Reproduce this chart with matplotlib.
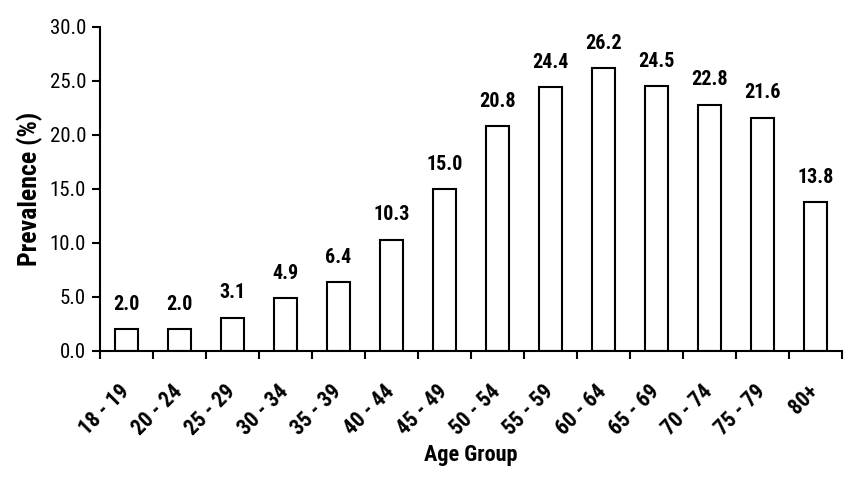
import matplotlib
matplotlib.use("Agg")
import matplotlib.pyplot as plt
import numpy as np
from matplotlib import font_manager

age_groups = ["18 - 19", "20 - 24", "25 - 29", "30 - 34", "35 - 39", "40 - 44", "45 - 49",
              "50 - 54", "55 - 59", "60 - 64", "65 - 69", "70 - 74", "75 - 79", "80+"]
prevalence = [2.0, 2.0, 3.1, 4.9, 6.4, 10.3, 15.0, 20.8, 24.4, 26.2, 24.5, 22.8, 21.6, 13.8]
y_ticks = [0, 5, 10, 15, 20, 25, 30]

names = {f.name for f in font_manager.fontManager.ttflist}
fam = "Liberation Sans"
for cand in ["Liberation Sans Narrow", "Roboto Condensed", "Open Sans Condensed", "DejaVu Sans Condensed"]:
    if cand in names:
        fam = cand
        break
plt.rcParams['font.family'] = [fam, 'DejaVu Sans']

fig = plt.figure(figsize=(8.5, 4.84), dpi=100)
ax = fig.add_axes([100/850, 1-351/484, 742/850, 324/484])

x = np.arange(len(age_groups))
ax.bar(x, prevalence, width=0.44, color="white", edgecolor="black", linewidth=1.5)
for xi, v in zip(x, prevalence):
    ax.annotate(f"{v:.1f}", (xi, v), xytext=(0, 11), textcoords="offset points",
                ha="center", va="bottom", fontsize=14.5, fontweight="bold")

ax.set_xlim(-0.5, len(age_groups) - 0.5)
ax.set_ylim(0, 30)
ax.set_yticks(y_ticks)
ax.set_yticklabels([f"{t:.1f}" for t in y_ticks], fontsize=15)

ax.set_xticks(np.arange(len(age_groups) + 1) - 0.5)
ax.set_xticklabels([])
ax.set_xticks(x, minor=True)
ax.set_xticklabels(age_groups, minor=True, rotation=45, ha="right", va="center",
                   rotation_mode="anchor", fontsize=15.5, fontweight="bold")
ax.tick_params(axis="x", which="minor", length=0, pad=27)
ax.tick_params(axis="both", which="major", length=6, width=1.5, direction="out")
ax.tick_params(axis="y", pad=4)

for s in ["top", "right"]:
    ax.spines[s].set_visible(False)
for s in ["left", "bottom"]:
    ax.spines[s].set_linewidth(1.5)

ax.set_ylabel("Prevalence (%)", fontsize=18.5, fontweight="bold", labelpad=5)
ax.set_xlabel("Age Group", fontsize=16, fontweight="bold", labelpad=3)

fig.savefig("out.png", dpi=100)
